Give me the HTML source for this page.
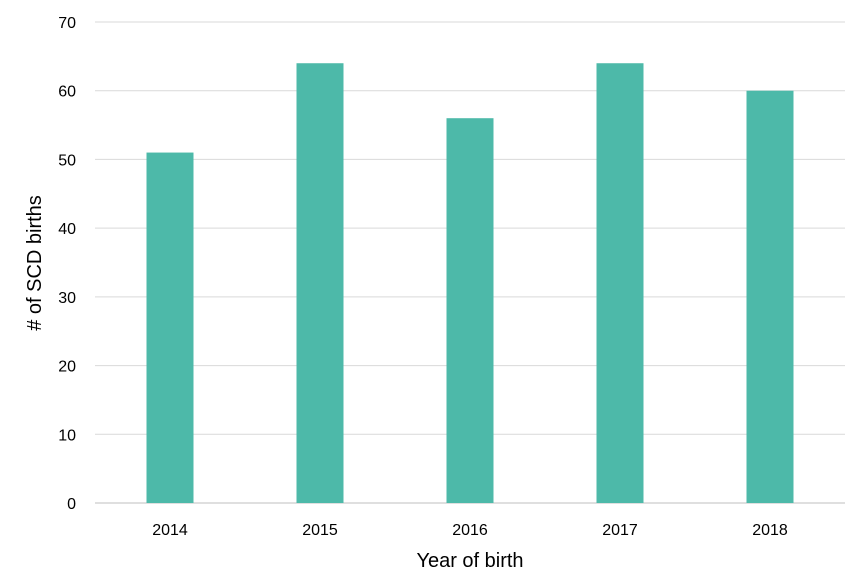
<!DOCTYPE html>
<html><head><meta charset="utf-8"><style>
body{margin:0;background:#fff;}
svg{display:block;font-family:"Liberation Sans",sans-serif;}
</style></head><body>
<svg width="866" height="578">
<g id="grid"></g><g id="bars"></g><g id="yticks"></g><g id="xticks"></g>
<text x="470" y="567" text-anchor="middle" font-size="20" fill="#000">Year of birth</text>
<text transform="translate(41,263) rotate(-90)" text-anchor="middle" font-size="20" fill="#000"># of SCD births</text>
</svg>
<script>
const categories = ["2014","2015","2016","2017","2018"];
const values = [51,64,56,64,60];
const yTicks = [0,10,20,30,40,50,60,70];
const NS="http://www.w3.org/2000/svg";
const x0=95,x1=845,y0=503,y1=22,yMax=70;
const y=v=>y0-(v/yMax)*(y0-y1);
const band=(x1-x0)/categories.length;
const xc=i=>x0+band*(i+0.5);
const bw=47;
const grid=document.getElementById('grid'),bars=document.getElementById('bars'),yt=document.getElementById('yticks'),xt=document.getElementById('xticks');
yTicks.forEach(t=>{
  const l=document.createElementNS(NS,'line');
  
  
  l.setAttribute('x1',x0);l.setAttribute('x2',x1);l.setAttribute('y1',y(t));l.setAttribute('y2',y(t));
  l.setAttribute('stroke',t===0?'#bfbfbf':'#d9d9d9');l.setAttribute('stroke-width','1');
  grid.appendChild(l);
  const tx=document.createElementNS(NS,'text');
  
  
  tx.setAttribute('x',76);tx.setAttribute('y',y(t)+6);tx.setAttribute('text-anchor','end');tx.setAttribute('font-size','16');tx.setAttribute('fill','#000');
  tx.textContent=t;yt.appendChild(tx);
});
categories.forEach((c,i)=>{
  const r=document.createElementNS(NS,'rect');
  
  
  r.setAttribute('x',xc(i)-bw/2);r.setAttribute('width',bw);r.setAttribute('y',y(values[i]));r.setAttribute('height',y0-y(values[i]));
  r.setAttribute('fill','#4DB9A9');bars.appendChild(r);
  const tx=document.createElementNS(NS,'text');
  
  
  tx.setAttribute('x',xc(i));tx.setAttribute('y',535);tx.setAttribute('text-anchor','middle');tx.setAttribute('font-size','16');tx.setAttribute('fill','#000');
  tx.textContent=c;xt.appendChild(tx);
});
</script>
</body></html>
